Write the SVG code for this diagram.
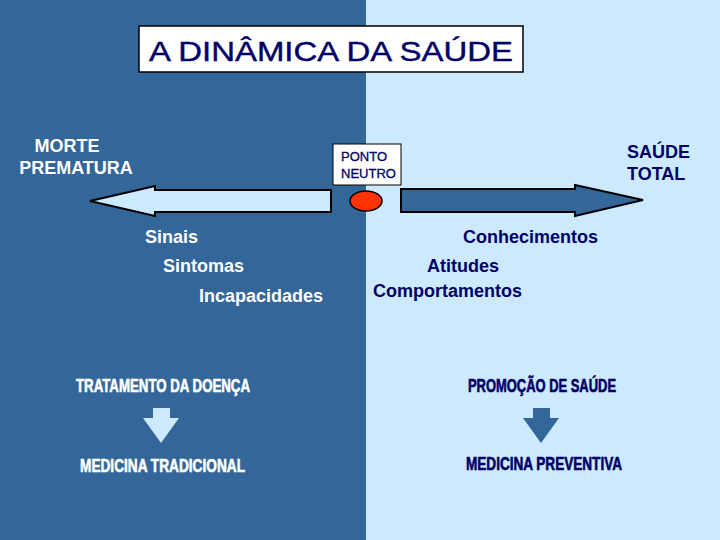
<svg xmlns="http://www.w3.org/2000/svg" width="720" height="540" viewBox="0 0 720 540">
<style>
.w{fill:#ffffff;font-family:"Liberation Sans",Arial,sans-serif;font-weight:bold;font-size:18px}
.n{fill:#000066;font-family:"Liberation Sans",Arial,sans-serif;font-weight:bold;font-size:18px}
.c{font-family:"Liberation Sans Narrow","Liberation Sans",Arial,sans-serif;font-weight:bold;font-size:18px;stroke-width:0.6}
.arr{stroke:#000000;stroke-width:2;stroke-linejoin:miter}
</style>
<rect x="0" y="0" width="366" height="540" fill="#336699"/>
<rect x="366" y="0" width="354" height="540" fill="#cce9fd"/>
<g id="title">
<rect x="139" y="26" width="384" height="46" fill="#ffffff" stroke="#000000" stroke-width="1.5"/>
<text x="331" y="61" text-anchor="middle" font-family="&quot;Liberation Sans&quot;,Arial,sans-serif" font-size="28" fill="#000066" stroke="#000066" stroke-width="0.4" textLength="364" lengthAdjust="spacingAndGlyphs">A DINÂMICA DA SAÚDE</text>
</g>
<g id="morte">
<text class="w" x="67" y="152" text-anchor="middle">MORTE</text>
<text class="w" x="76" y="174" text-anchor="middle">PREMATURA</text>
</g>
<g id="saude-total">
<text class="n" x="627" y="158">SAÚDE</text>
<text class="n" x="627" y="180">TOTAL</text>
</g>
<g id="ponto-neutro">
<rect x="333" y="144" width="68" height="41" fill="#ffffff" stroke="#000000" stroke-width="1"/>
<text x="341" y="161" font-family="&quot;Liberation Sans&quot;,Arial,sans-serif" font-size="13" fill="#000066" stroke="#000066" stroke-width="0.3">PONTO</text>
<text x="341" y="178" font-family="&quot;Liberation Sans&quot;,Arial,sans-serif" font-size="13" fill="#000066" stroke="#000066" stroke-width="0.3">NEUTRO</text>
<ellipse cx="366" cy="201" rx="16" ry="10" fill="#ff3300" stroke="#000000" stroke-width="1.5"/>
</g>
<g id="connectors">
<polygon class="arr" fill="#cce9fd" points="331,190 155,190 155,186 90,201 155,216 155,212 331,212"/>
<polygon class="arr" fill="#336699" points="401,189 575,189 575,185 643,200 575,216 575,212 401,212"/>
<polygon fill="#cce9fd" points="153,408 170,408 170,418 179,418 161,443 143,418 153,418"/>
<polygon fill="#336699" points="533,408 550,408 550,418 559,418 541,443 523,418 533,418"/>
</g>
<g id="doenca-sinais">
<text class="w" x="145" y="243">Sinais</text>
<text class="w" x="163" y="272">Sintomas</text>
<text class="w" x="199" y="302">Incapacidades</text>
</g>
<g id="saude-sinais">
<text class="n" x="463" y="243">Conhecimentos</text>
<text class="n" x="427" y="272">Atitudes</text>
<text class="n" x="373" y="297">Comportamentos</text>
</g>
<g id="tratamento">
<text class="c" x="76" y="392" fill="#ffffff" stroke="#ffffff" textLength="174" lengthAdjust="spacingAndGlyphs">TRATAMENTO DA DOENÇA</text>
</g>
<g id="medicina-tradicional">
<text class="c" x="80" y="472" fill="#ffffff" stroke="#ffffff" textLength="165" lengthAdjust="spacingAndGlyphs">MEDICINA TRADICIONAL</text>
</g>
<g id="promocao">
<text class="c" x="468" y="392" fill="#000066" stroke="#000066" textLength="148" lengthAdjust="spacingAndGlyphs">PROMOÇÃO DE SAÚDE</text>
</g>
<g id="medicina-preventiva">
<text class="c" x="466" y="470" fill="#000066" stroke="#000066" textLength="156" lengthAdjust="spacingAndGlyphs">MEDICINA PREVENTIVA</text>
</g>
</svg>
